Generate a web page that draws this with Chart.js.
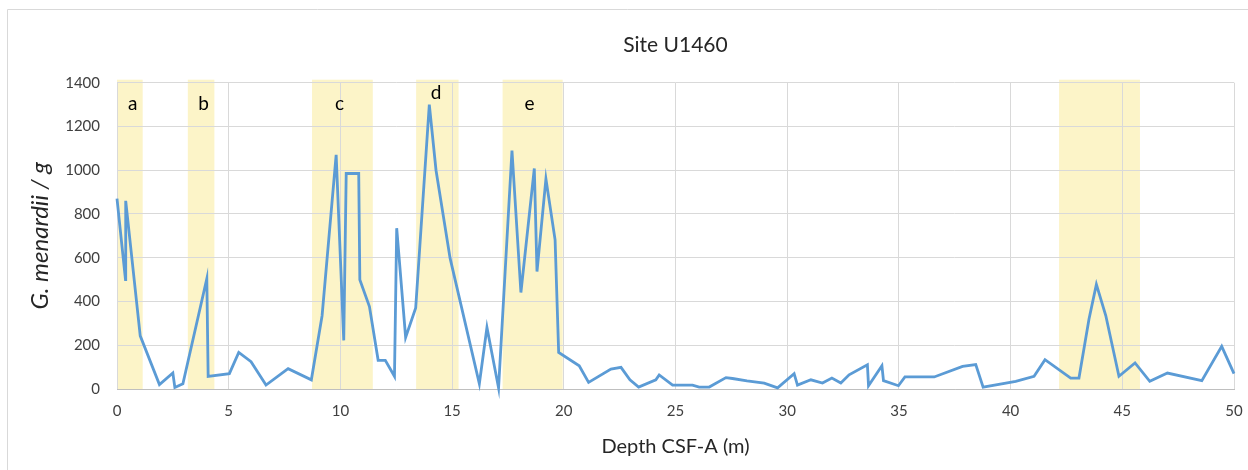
<!DOCTYPE html>
<html lang="en">
<head>
  <meta charset="UTF-8" />
  <title>Site U1460</title>
  <script src="https://cdn.jsdelivr.net/npm/chart.js"></script>
  <style>
    html, body {
      margin: 0;
      padding: 0;
      background: #fff;
      overflow: hidden;
    }
    #wrap {
      width: 1248px;
      height: 470px;
      position: relative;
    }
  </style>
</head>
<body>
  <div id="wrap">
    <canvas id="chartSite" width="1248" height="470"></canvas>
  </div>

  <script>
    // depth (m) and G. menardii per gram
    const depth = [
      0, 0.38, 0.39, 1.04, 1.90, 2.50, 2.59, 2.95, 4.02, 4.08,
      5.03, 5.45, 6.00, 6.67, 7.66, 8.70, 9.18, 9.81, 10.15, 10.26,
      10.82, 10.87, 11.30, 11.69, 12.01, 12.42, 12.52, 12.92, 13.37, 13.98,
      14.28, 14.91, 16.22, 16.56, 17.08, 17.68, 18.08, 18.68, 18.80, 19.20,
      19.61, 19.77, 20.69, 21.11, 22.11, 22.56, 22.96, 23.35, 24.12, 24.27,
      24.87, 25.76, 26.06, 26.51, 27.26, 27.55, 28.20, 28.97, 29.57, 30.31,
      30.46, 31.06, 31.58, 32.00, 32.40, 32.77, 33.59, 33.64, 34.24, 34.31,
      34.98, 35.27, 36.58, 37.85, 38.44, 38.77, 40.23, 41.05, 41.54, 42.69,
      43.06, 43.51, 43.84, 44.26, 44.85, 45.57, 46.23, 47.02, 48.56, 49.45,
      50.00
    ];
    const menardii = [
      870, 500, 860, 243, 20, 73, 7, 24, 504, 58,
      70, 167, 125, 18, 93, 42, 335, 1070, 222, 985,
      985, 499, 377, 131, 131, 58, 735, 236, 370, 1300,
      1000, 598, 24, 281, 5, 1090, 441, 1008, 537, 960,
      682, 167, 106, 30, 91, 99, 42, 9, 42, 64,
      18, 18, 9, 9, 52, 48, 37, 27, 5, 70,
      18, 42, 27, 50, 27, 65, 111, 15, 106, 38,
      15, 55, 55, 103, 112, 8, 35, 58, 134, 50,
      50, 320, 478, 336, 58, 119, 35, 73, 38, 195,
      70
    ];

    // shaded intervals (m)
    const bandStart = [0, 3.17, 8.73, 13.39, 17.26, 42.17];
    const bandEnd = [1.15, 4.36, 11.45, 15.29, 19.95, 45.79];
    const bandLabels = ["a", "b", "c", "d", "e"];
    const labelDepth = [0.7, 3.88, 9.96, 14.28, 18.46];
    const labelValue = [1305, 1305, 1305, 1352, 1305];

    const lineBlue = '#5B9BD5';
    const bandYellow = '#FCF4C8';
    const gridGrey = '#d9d9d9';
    const textDark = '#404040';
    const fontFam = "Lato, 'Open Sans', sans-serif";

    const points = depth.map((d, i) => ({ x: d, y: menardii[i] }));

    // yellow bands behind the grid, letters on top of them
    const bandsPlugin = {
      id: 'bands',
      beforeDraw(chart) {
        const { ctx, chartArea, scales } = chart;
        ctx.save();
        // outer chart frame (only top and left visible)
        ctx.strokeStyle = gridGrey;
        ctx.lineWidth = 1;
        ctx.beginPath();
        ctx.moveTo(7.5, 470);
        ctx.lineTo(7.5, 9.5);
        ctx.lineTo(1248, 9.5);
        ctx.stroke();

        ctx.fillStyle = bandYellow;
        for (let i = 0; i < bandStart.length; i++) {
          const x1 = scales.x.getPixelForValue(bandStart[i]);
          const x2 = scales.x.getPixelForValue(bandEnd[i]);
          ctx.fillRect(x1, chartArea.top - 3, x2 - x1, chartArea.bottom - chartArea.top + 3);
        }
        ctx.restore();
      },
      afterDatasetsDraw(chart) {
        const { ctx, scales } = chart;
        ctx.save();
        ctx.fillStyle = '#000';
        ctx.font = "19px " + fontFam;
        ctx.textAlign = 'center';
        ctx.textBaseline = 'middle';
        bandLabels.forEach((t, i) => {
          ctx.fillText(t, scales.x.getPixelForValue(labelDepth[i]), scales.y.getPixelForValue(labelValue[i]));
        });
        ctx.restore();
      }
    };

    new Chart(document.getElementById("chartSite"), {
      type: "scatter",
      data: {
        datasets: [{
          label: "Site U1460",
          data: points,
          showLine: true,
          borderColor: lineBlue,
          backgroundColor: lineBlue,
          borderWidth: 2.8,
          pointRadius: 0,
          tension: 0,
          clip: false,
        }],
      },
      options: {
        responsive: false,
        animation: false,
        devicePixelRatio: 1,
        layout: { padding: { left: 0, right: 14, top: 0, bottom: 0 } },
        plugins: {
          legend: { display: false },
          tooltip: { enabled: false },
          title: {
            display: true,
            fullSize: false,
            text: "Site U1460",
            color: '#262626',
            font: { family: fontFam, size: 21, weight: 'normal' },
            padding: { top: 33, bottom: 24.5 },
          },
        },
        scales: {
          x: {
            type: 'linear',
            min: 0,
            max: 50,
            afterFit(scale) {
              scale.height = 81;
              scale.paddingLeft = 0;
              scale.paddingRight = 0;
            },
            ticks: {
              stepSize: 5,
              maxRotation: 0,
              color: textDark,
              padding: 13,
              font: { family: fontFam, size: 15 },
            },
            grid: { color: gridGrey, drawTicks: false },
            border: { color: '#bfbfbf' },
            title: {
              display: true,
              text: "Depth CSF-A (m)",
              color: '#262626',
              font: { family: fontFam, size: 20 },
              padding: { top: 0, bottom: 11 },
            },
          },
          y: {
            min: 0,
            max: 1400,
            afterFit(scale) { scale.width = 117; },
            ticks: {
              stepSize: 200,
              color: textDark,
              padding: 17,
              font: { family: fontFam, size: 15 },
              callback: (v) => String(v),
            },
            grid: { color: gridGrey, drawTicks: false },
            border: { display: false },
            title: {
              display: true,
              text: "G. menardii / g",
              color: '#262626',
              font: { family: fontFam, size: 24, style: 'italic' },
              padding: { top: 26, bottom: 0 },
            },
          },
        },
      },
      plugins: [bandsPlugin],
    });
  </script>
</body>
</html>
